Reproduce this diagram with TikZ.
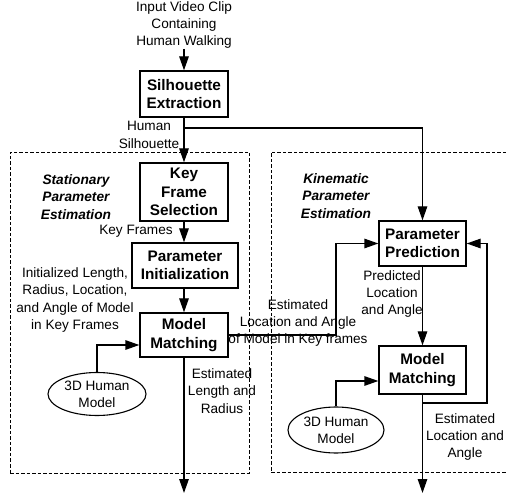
\documentclass[tikz,border=0pt]{standalone}
\usepackage{fontspec}
\setmainfont{Liberation Sans}
\usetikzlibrary{positioning,arrows.meta,shapes.geometric}

\begin{document}
\begin{tikzpicture}[x=1pt,y=-1pt,
      every node/.style={font=\fontsize{13.6}{17.3}\selectfont,align=center,inner sep=0pt},
      proc/.style={rectangle,draw,line width=1.3pt,align=center,
                   font=\fontsize{15.3}{18.5}\selectfont\bfseries,
                   minimum width=88pt,minimum height=46pt},
      model/.style={ellipse,draw,line width=1.1pt,minimum width=98pt,
                   minimum height=43pt,inner sep=0pt},
      phase/.style={font=\fontsize{13.7}{17.3}\selectfont\bfseries\itshape},
      arr/.style={-{Triangle[length=14pt,width=9.5pt]},line width=1.3pt},
      grp/.style={rectangle,draw,line width=0.7pt,dash pattern=on 3.5pt off 2pt},
    ]
    \useasboundingbox (0,0) rectangle (506,502);

    % --- dashed group frames ---
    \node[grp,minimum width=239pt,minimum height=321pt] (stationary) at (129.5,312.5) {};
    \node[grp,minimum width=249pt,minimum height=320pt] (kinematic) at (395.5,312) {};

    % --- input and silhouette extraction ---
    \node (input) at (184,25) {Input Video Clip\\Containing\\Human Walking};
    \node[proc] (silhouette) at (184,94) {Silhouette\\Extraction};
    \coordinate (split) at (184,128);

    % --- stationary parameter estimation ---
    \node[proc,minimum height=58pt] (keyframe) at (184,192) {Key\\Frame\\Selection};
    \node[proc,minimum width=106pt,minimum height=45pt] (paraminit) at (185,265.5) {Parameter\\Initialization};
    \node[proc,minimum height=44pt] (matchA) at (184,335) {Model\\Matching};
    \node[model] (humanA) at (97,394) {3D Human\\Model};
    \coordinate (outA) at (184,493);
    \coordinate (bendA) at (336,335);

    % --- kinematic parameter estimation ---
    \node[proc,minimum width=87pt,minimum height=45pt] (predict) at (422.5,243.5) {Parameter\\Prediction};
    \node[proc,minimum width=87pt,minimum height=48pt] (matchB) at (422.5,370) {Model\\Matching};
    \node[model,minimum width=96pt,minimum height=46pt] (humanB) at (336,430) {3D Human\\Model};
    \coordinate (fbStart) at (422.5,403);
    \coordinate (fbCorner) at (487,403);
    \coordinate (outB) at (422.5,493);

    % --- labels ---
    \node (silLbl) at (149,135) {Human\\Silhouette};
    \node[phase] (statLbl) at (76,197) {Stationary\\Parameter\\Estimation};
    \node (keyLbl) at (136,231) {Key Frames};
    \node (initLbl) at (75,300) {Initialized Length,\\Radius, Location,\\and Angle of Model\\in Key Frames};
    \node (lenLbl) at (222,391) {Estimated\\Length and\\Radius};
    \node (keyLocLbl) at (298,323) {Estimated\\Location and Angle\\of Model in Key frames};
    \node[phase] (kinLbl) at (336,196) {Kinematic\\Parameter\\Estimation};
    \node (predLbl) at (392,294) {Predicted\\Location\\and Angle};
    \node (locLbl) at (465,437) {Estimated\\Location and\\Angle};

    % --- connectors ---
    \draw[arr] (input) -- (silhouette);
    \draw[arr] (silhouette) -- (keyframe);
    \draw[arr] (split) -| (predict);
    \draw[arr] (keyframe) -- (keyframe |- paraminit.north);
    \draw[arr] (paraminit.south -| matchA) -- (matchA);
    \draw[arr] (humanA.north) |- ([yshift=-10pt]matchA.west);
    \draw[arr] (matchA) -- (outA);
    \draw[arr] (matchA.east) -- (bendA) |- (predict.west);
    \draw[arr] (predict) -- (matchB);
    \draw[arr] (humanB.north) |- ([yshift=-11pt]matchB.west);
    \draw[arr] (matchB) -- (outB);
    \draw[arr] (fbStart) -- (fbCorner) |- (predict.east);

  \end{tikzpicture}
\end{document}
